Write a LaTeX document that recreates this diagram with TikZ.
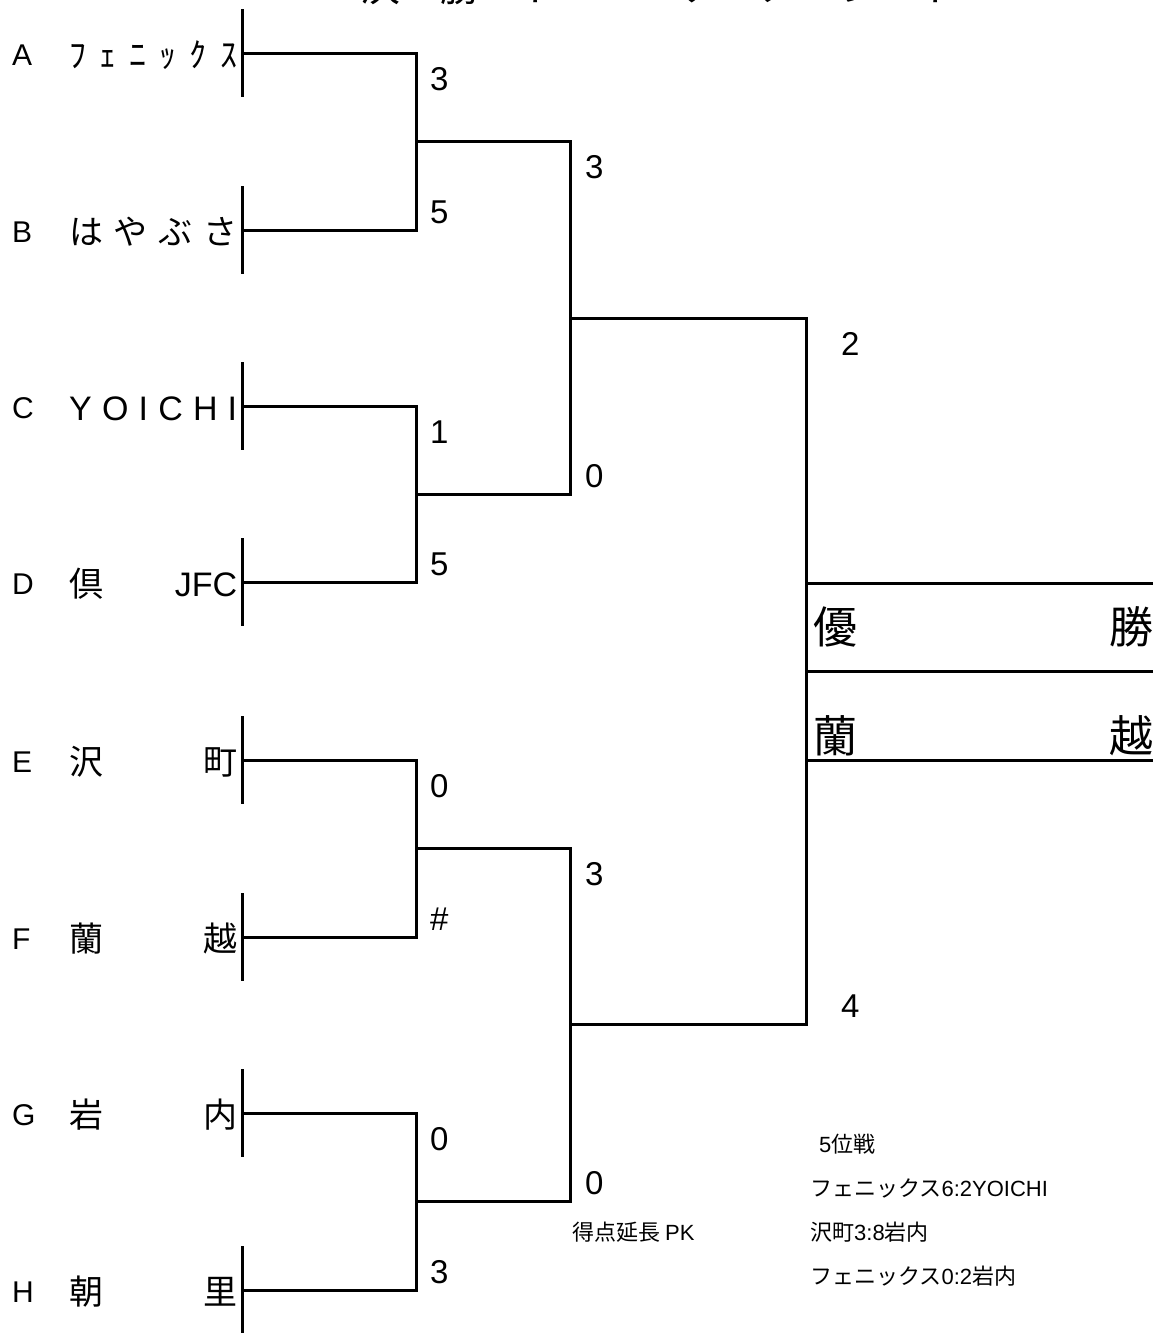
\documentclass[tikz,border=0pt]{standalone}
\usepackage{fontspec}
\setmainfont{Noto Sans CJK JP}
\newfontfamily\lat{Liberation Sans}
\usetikzlibrary{calc}
\newcommand{\teamname}[1]{\makebox[168pt][s]{#1}}

\begin{document}
\begin{tikzpicture}[
    x=1pt, y=-1pt,
    bracket/.style={line width=3pt, line join=miter},
    teamtick/.style={line width=3pt},
    seed/.style={anchor=base west, inner sep=0pt, font=\lat\fontsize{30}{36}\selectfont},
    team/.style={anchor=base west, inner sep=0pt, font=\fontsize{34}{40}\selectfont},
    score/.style={anchor=base west, inner sep=0pt, font=\lat\fontsize{33}{40}\selectfont},
    champ/.style={inner sep=0pt, font=\fontsize{44}{52}\selectfont},
    remark/.style={anchor=base west, inner sep=0pt, font=\fontsize{22}{26}\selectfont},
    heading/.style={anchor=base, inner sep=0pt, font=\fontsize{40}{48}\selectfont}
]
\useasboundingbox (0,0) rectangle (1152,1333);

% Title, cut off by the top of the page
\node[heading] (head) at (660,1.5) {決　勝　ト　ー　ナ　メ　ン　ト};

% Team ends
\coordinate (tA) at (242,53);
\coordinate (tB) at (242,230);
\coordinate (tC) at (242,406);
\coordinate (tD) at (242,582);
\coordinate (tE) at (242,760);
\coordinate (tF) at (242,937);
\coordinate (tG) at (242,1113);
\coordinate (tH) at (242,1290);

% Match points
\coordinate (m1) at (416,141);
\coordinate (m2) at (416,494);
\coordinate (m3) at (416,848);
\coordinate (m4) at (416,1201);
\coordinate (s1) at (570,318);
\coordinate (s2) at (570,1024);
\coordinate (fin) at (806,671);
\coordinate (wtop) at (806,583);
\coordinate (wbot) at (806,760);
\coordinate (edge) at (1160,0);

% Teams
\node[seed] (sA) at ($(tA)+(-230,12)$) {A};
\node[seed] (sB) at ($(tB)+(-230,12)$) {B};
\node[seed] (sC) at ($(tC)+(-230,12)$) {C};
\node[seed] (sD) at ($(tD)+(-230,12)$) {D};
\node[seed] (sE) at ($(tE)+(-230,12)$) {E};
\node[seed] (sF) at ($(tF)+(-230,12)$) {F};
\node[seed] (sG) at ($(tG)+(-230,12)$) {G};
\node[seed] (sH) at ($(tH)+(-230,12)$) {H};

\node[team] (nA) at ($(tA)+(-173,14)$) {\teamname{ﾌ\hfill ｪ\hfill ﾆ\hfill ｯ\hfill ｸ\hfill ｽ}};
\node[team] (nB) at ($(tB)+(-173,14)$) {\teamname{は\hfill や\hfill ぶ\hfill さ}};
\node[team] (nC) at ($(tC)+(-173,14)$) {\teamname{{\lat Y}\hfill{\lat O}\hfill{\lat I}\hfill{\lat C}\hfill{\lat H}\hfill{\lat I}}};
\node[team] (nD) at ($(tD)+(-173,14)$) {\teamname{倶\hfill{\lat JFC}}};
\node[team] (nE) at ($(tE)+(-173,14)$) {\teamname{沢\hfill 町}};
\node[team] (nF) at ($(tF)+(-173,14)$) {\teamname{蘭\hfill 越}};
\node[team] (nG) at ($(tG)+(-173,14)$) {\teamname{岩\hfill 内}};
\node[team] (nH) at ($(tH)+(-173,14)$) {\teamname{朝\hfill 里}};

% Ticks at the team ends
\draw[teamtick] ([yshift=44pt]tA) -- ([yshift=-44pt]tA);
\draw[teamtick] ([yshift=44pt]tB) -- ([yshift=-44pt]tB);
\draw[teamtick] ([yshift=44pt]tC) -- ([yshift=-44pt]tC);
\draw[teamtick] ([yshift=44pt]tD) -- ([yshift=-44pt]tD);
\draw[teamtick] ([yshift=44pt]tE) -- ([yshift=-44pt]tE);
\draw[teamtick] ([yshift=44pt]tF) -- ([yshift=-44pt]tF);
\draw[teamtick] ([yshift=44pt]tG) -- ([yshift=-44pt]tG);
\draw[teamtick] ([yshift=44pt]tH) -- ([yshift=-44pt]tH);

% Bracket
\draw[bracket] (tA) -| (m1) |- (tB);
\draw[bracket] (tC) -| (m2) |- (tD);
\draw[bracket] (tE) -| (m3) |- (tF);
\draw[bracket] (tG) -| (m4) |- (tH);
\draw[bracket] (m1) -| (s1) |- (m2);
\draw[bracket] (m3) -| (s2) |- (m4);
\draw[bracket] (s1) -| (fin) |- (s2);

% Winner box
\draw[bracket] (wtop) -- (wtop -| edge);
\draw[bracket] (fin) -- (fin -| edge);
\draw[bracket] (wbot) -- (wbot -| edge);
\node[champ, anchor=west] (yu) at (813,627) {優};
\node[champ, anchor=east] (sho) at (1154,627) {勝};
\node[champ, anchor=west] (ran) at (813,736) {蘭};
\node[champ, anchor=east] (etsu) at (1154,736) {越};

% Scores, first round
\node[score] (c1a) at ($(m1 |- tA)+(14,37)$) {3};
\node[score] (c1b) at ($(m1 |- tB)+(14,-7)$) {5};
\node[score] (c2a) at ($(m2 |- tC)+(14,37)$) {1};
\node[score] (c2b) at ($(m2 |- tD)+(14,-7)$) {5};
\node[score] (c3a) at ($(m3 |- tE)+(14,37)$) {0};
\node[score] (c3b) at ($(m3 |- tF)+(14,-7)$) {\#};
\node[score] (c4a) at ($(m4 |- tG)+(14,37)$) {0};
\node[score] (c4b) at ($(m4 |- tH)+(14,-7)$) {3};

% Scores, semifinals
\node[score] (d1a) at ($(s1 |- m1)+(15,37)$) {3};
\node[score] (d1b) at ($(s1 |- m2)+(15,-7)$) {0};
\node[score] (d2a) at ($(s2 |- m3)+(15,37)$) {3};
\node[score] (d2b) at ($(s2 |- m4)+(15,-7)$) {0};

% Scores, final
\node[score] (e1) at ($(fin |- s1)+(35,37)$) {2};
\node[score] (e2) at ($(fin |- s2)+(35,-7)$) {4};

% Remarks
\node[remark] (pk) at (572,1240) {得点延長 {\lat PK}};
\node[remark] (fifth) at (819,1152) {{\lat 5}位戦};
\node[remark] (g1) at (810,1196) {フェニックス{\lat 6:2YOICHI}};
\node[remark] (g2) at (810,1240) {沢町{\lat 3:8}岩内};
\node[remark] (g3) at (810,1284) {フェニックス{\lat 0:2}岩内};

\end{tikzpicture}
\end{document}
